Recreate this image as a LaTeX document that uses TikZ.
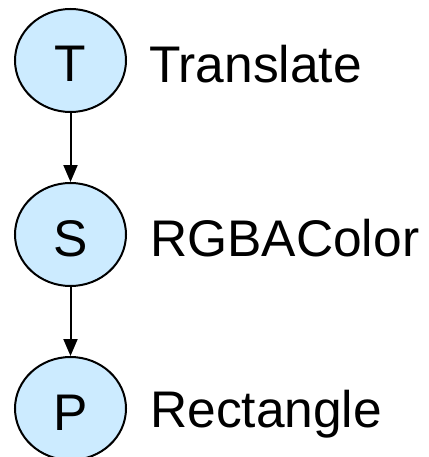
\documentclass[tikz,border=0pt]{standalone}
\usepackage{fontspec}
\setmainfont{Liberation Sans}
\usetikzlibrary{arrows.meta,shapes.geometric}
\definecolor{nodefill}{HTML}{CCEBFF}
\begin{document}
\begin{tikzpicture}[x=1pt,y=-1pt,
  obj/.style={ellipse,draw=black,line width=2pt,fill=nodefill,minimum width=111pt,minimum height=103pt,inner sep=0pt,
    font=\fontsize{51.5}{60}\selectfont,text height=43pt,text depth=0pt},
  lbl/.style={anchor=base west,inner sep=0pt,font=\fontsize{51.5}{60}\selectfont},
  link/.style={-{Triangle[length=17pt,width=14pt]},line width=2pt}]
\useasboundingbox (0,0) rectangle (428,457);
\node[obj] (T) at (70.5,60.5) {T};
\node[obj] (S) at (70.5,234.5) {S};
\node[obj] (P) at (70.5,408.5) {P};
\node[lbl] (lT) at (149,82.5) {Translate};
\node[lbl] (lS) at (150,256.5) {RGBAColor};
\node[lbl] (lP) at (150,427.5) {Rectangle};
\draw[link] (T) -- (S);
\draw[link] (S) -- (P);
\end{tikzpicture}
\end{document}
